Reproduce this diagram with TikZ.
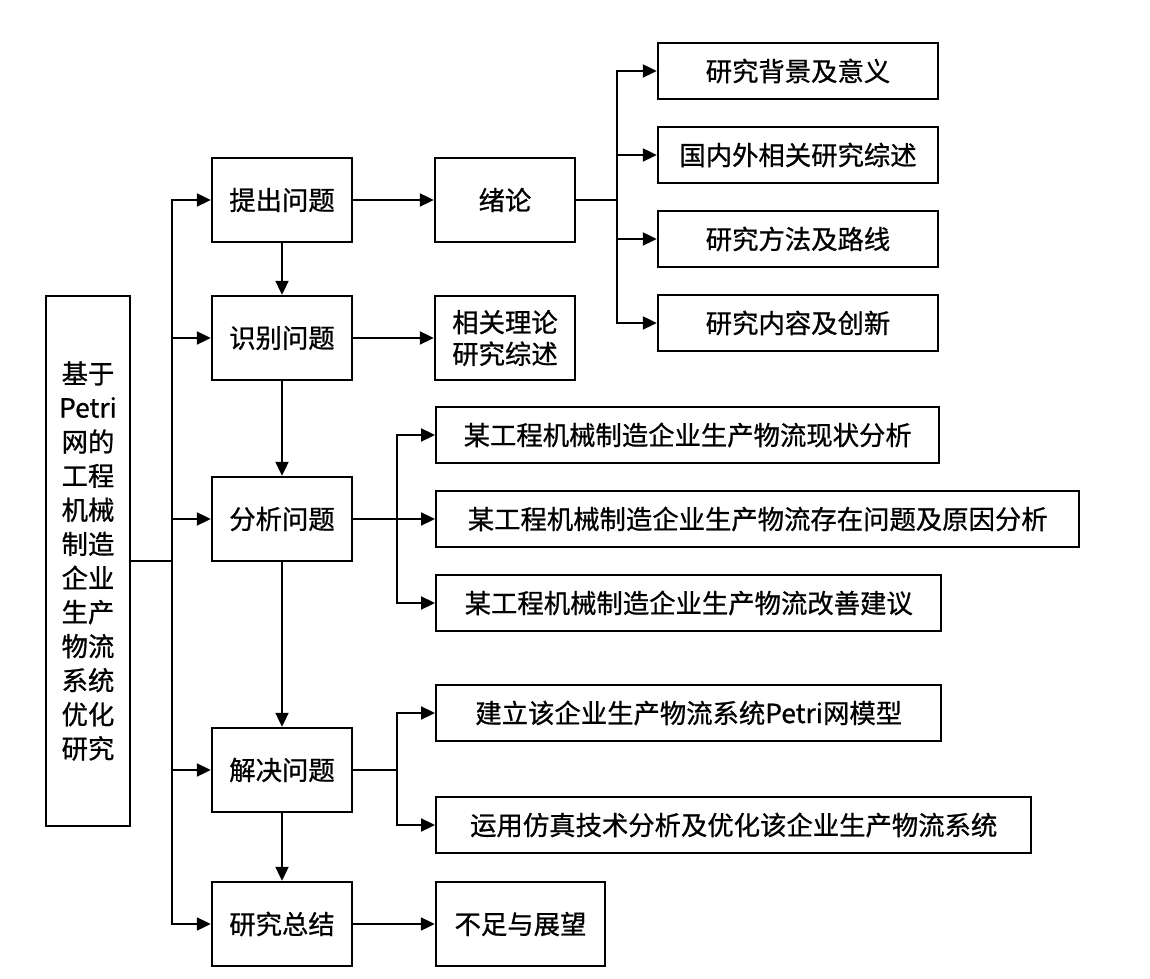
\documentclass[tikz,border=0pt]{standalone}
\usepackage{fontspec}
\setmainfont{Noto Sans CJK SC}[FakeBold=0.8]
\usetikzlibrary{arrows.meta, positioning}
\tikzset{
    stage/.style={
        rectangle, draw=black, line width=1.4pt,
        minimum width=2.8cm, minimum height=1.68cm,
        fill=white, font=\fontsize{15}{18}\selectfont, align=center
    },
    topic/.style={
        rectangle, draw=black, line width=1.4pt,
        minimum height=1.12cm, inner sep=0pt,
        fill=white, font=\fontsize{15}{18}\selectfont
    },
    mainbox/.style={
        rectangle, draw=black, line width=1.4pt,
        minimum width=1.68cm, minimum height=10.6cm,
        fill=white, font=\fontsize{15}{19.4}\selectfont, align=center
    },
    wire/.style={draw=black, line width=1.3pt, -{Triangle[length=0.28cm, width=0.26cm]}},
    line/.style={draw=black, line width=1.3pt}
}

\begin{document}
\begin{tikzpicture}

\useasboundingbox (0,0) rectangle (23,19.56);

% Left: thesis title
\node[mainbox] (goal) at (1.76,8.34) {基于\\Petri\\网的\\工程\\机械\\制造\\企业\\生产\\物流\\系统\\优化\\研究};

% Second column: research steps
\node[stage] (ask)   at (5.64,15.56) {提出问题};
\node[stage] (ident) at (5.64,12.8)  {识别问题};
\node[stage] (anal)  at (5.64,9.18)  {分析问题};
\node[stage] (solve) at (5.64,4.16)  {解决问题};
\node[stage] (summ)  at (5.64,1.08)  {研究总结};

% Third column
\node[stage] (intro)  at (10.1,15.56) {绪论};
\node[stage] (theory) at (10.1,12.8)  {相关理论\\研究综述};
\node[stage, minimum width=3.38cm, inner sep=0pt] (outlook) at (10.41,1.08) {不足与展望};

% Chapter 1 contents
\node[topic, minimum width=5.6cm] (bg)  at (15.96,18.14) {研究背景及意义};
\node[topic, minimum width=5.6cm] (rev) at (15.96,16.46) {国内外相关研究综述};
\node[topic, minimum width=5.6cm] (meth) at (15.96,14.78) {研究方法及路线};
\node[topic, minimum width=5.6cm] (cont) at (15.96,13.10) {研究内容及创新};

% Analysis contents
\node[topic, anchor=west, minimum width=10.06cm] (stat) at (8.7,10.86) {某工程机械制造企业生产物流现状分析};
\node[topic, anchor=west, minimum width=12.86cm] (prob) at (8.7,9.18)  {某工程机械制造企业生产物流存在问题及原因分析};
\node[topic, anchor=west, minimum width=10.1cm]  (sugg) at (8.7,7.5)   {某工程机械制造企业生产物流改善建议};

% Solution contents
\node[topic, anchor=west, minimum width=10.1cm] (model) at (8.7,5.3)  {建立该企业生产物流系统Petri网模型};
\node[topic, anchor=west, minimum width=11.9cm] (simu)  at (8.7,3.06) {运用仿真技术分析及优化该企业生产物流系统};

% Junctions
\coordinate (trunk) at (3.44,8.34);
\coordinate (br1) at (12.34,15.56);
\coordinate (br2) at (7.94,9.18);
\coordinate (br3) at (7.94,4.16);

% Connections
\draw[line] (goal) -- (trunk);
\draw[wire] (trunk) |- (ask);
\draw[wire] (trunk) |- (ident);
\draw[wire] (trunk) |- (anal);
\draw[wire] (trunk) |- (solve);
\draw[wire] (trunk) |- (summ);

\draw[wire] (ask) -- (ident);
\draw[wire] (ident) -- (anal);
\draw[wire] (anal) -- (solve);
\draw[wire] (solve) -- (summ);

\draw[wire] (ask) -- (intro);
\draw[wire] (ident) -- (theory);
\draw[wire] (summ) -- (outlook);

\draw[line] (intro) -- (br1);
\draw[wire] (br1) |- (bg);
\draw[wire] (br1) |- (rev);
\draw[wire] (br1) |- (meth);
\draw[wire] (br1) |- (cont);

\draw[line] (anal) -- (br2);
\draw[wire] (br2) |- (stat);
\draw[wire] (br2) -- (prob);
\draw[wire] (br2) |- (sugg);

\draw[line] (solve) -- (br3);
\draw[wire] (br3) |- (model);
\draw[wire] (br3) |- (simu);

\end{tikzpicture}
\end{document}
